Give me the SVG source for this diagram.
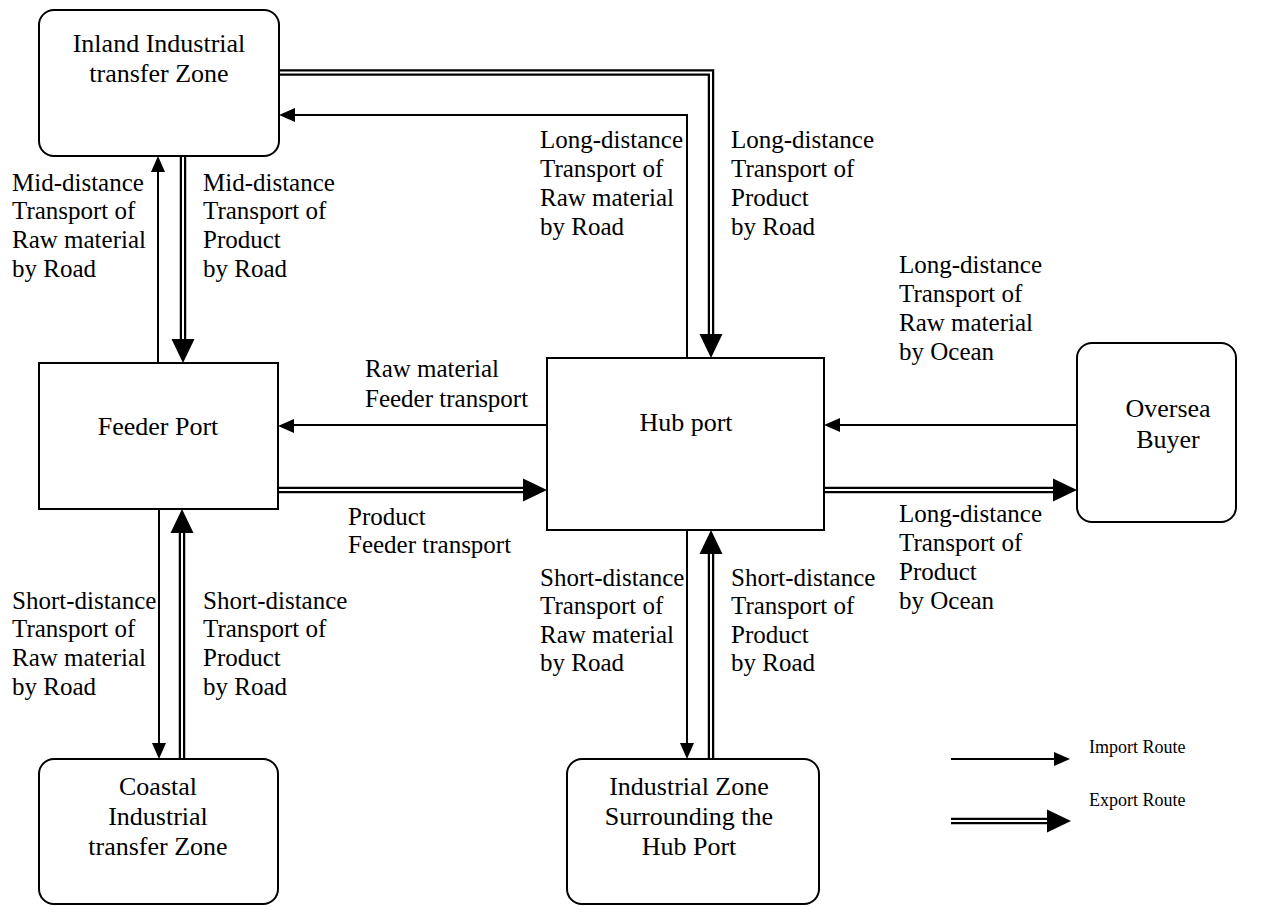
<svg xmlns="http://www.w3.org/2000/svg" width="1264" height="906" viewBox="0 0 1264 906">
<style>
.box{fill:#fff;stroke:#000;stroke-width:2}
text{font-family:'Liberation Serif','DejaVu Serif',serif;fill:#000}
.nt{font-size:26px;text-anchor:middle}
.lb{font-size:25px}
.lg{font-size:18px}
.s{fill:none;stroke:#000;stroke-width:2}
.dO{fill:none;stroke:#000;stroke-width:6.5;stroke-linejoin:miter}
.dI{fill:none;stroke:#fff;stroke-width:2}
.h{fill:#000}
</style>
<rect width="1264" height="906" fill="#fff"/>
<g id="connectors">
<path class="s" d="M158,363 V170"/><polygon class="h" points="158,156 151,172 165,172"/>
<path class="dO" d="M183,156 V340"/><path class="dI" d="M183,156 V342"/><polygon class="h" points="183,363 171.5,339 194.5,339"/>
<path class="s" d="M687,358 V115 H293"/><polygon class="h" points="279,115 295,108 295,122"/>
<path class="dO" d="M279,72.5 H711 V336"/><path class="dI" d="M279,72.5 H711 V338"/><polygon class="h" points="711,358 699.5,334 722.5,334"/>
<path class="s" d="M547,425 H292"/><polygon class="h" points="278,426 294,419 294,433"/>
<path class="dO" d="M278,490 H525"/><path class="dI" d="M278,490 H527"/><polygon class="h" points="547,490 523,478.5 523,501.5"/>
<path class="s" d="M1077,425 H838"/><polygon class="h" points="824,425 840,418 840,432"/>
<path class="dO" d="M824,490 H1055"/><path class="dI" d="M824,490 H1057"/><polygon class="h" points="1077,490 1053,478.5 1053,501.5"/>
<path class="s" d="M159,509 V745"/><polygon class="h" points="159,759 152,743 166,743"/>
<path class="dO" d="M182,759 V531"/><path class="dI" d="M182,759 V529"/><polygon class="h" points="182,509 170.5,533 193.5,533"/>
<path class="s" d="M687,530 V745"/><polygon class="h" points="687,759 680,743 694,743"/>
<path class="dO" d="M711,759 V552"/><path class="dI" d="M711,759 V550"/><polygon class="h" points="711,530 699.5,554 722.5,554"/>
<path class="s" d="M951,759 H1056"/><polygon class="h" points="1070,759 1054,752 1054,766"/>
<path class="dO" d="M951,821 H1048"/><path class="dI" d="M951,821 H1050"/><polygon class="h" points="1071,821 1047,809.5 1047,832.5"/>
</g>
<g id="inland">
<rect class="box" x="39" y="10" width="240" height="146" rx="15"/>
<text class="nt"><tspan x="159" y="52">Inland Industrial</tspan><tspan x="159" y="82">transfer Zone</tspan></text>
</g>
<g id="feeder">
<rect class="box" x="39" y="363" width="239" height="146"/>
<text class="nt"><tspan x="158" y="435">Feeder Port</tspan></text>
</g>
<g id="coastal">
<rect class="box" x="39" y="759" width="239" height="145" rx="15"/>
<text class="nt"><tspan x="158" y="795">Coastal</tspan><tspan x="158" y="825">Industrial</tspan><tspan x="158" y="855">transfer Zone</tspan></text>
</g>
<g id="hub">
<rect class="box" x="547" y="358" width="277" height="172"/>
<text class="nt"><tspan x="686" y="431">Hub port</tspan></text>
</g>
<g id="oversea">
<rect class="box" x="1077" y="343" width="159" height="179" rx="15"/>
<text class="nt"><tspan x="1168" y="417">Oversea</tspan><tspan x="1168" y="448">Buyer</tspan></text>
</g>
<g id="industrial">
<rect class="box" x="567" y="759" width="252" height="145" rx="15"/>
<text class="nt"><tspan x="689" y="795">Industrial Zone</tspan><tspan x="689" y="825">Surrounding the</tspan><tspan x="689" y="855">Hub Port</tspan></text>
</g>
<g id="labels">
<text class="lb"><tspan x="12" y="191">Mid-distance</tspan><tspan x="12" y="219">Transport of</tspan><tspan x="12" y="248">Raw material</tspan><tspan x="12" y="277">by Road</tspan></text>
<text class="lb"><tspan x="203" y="191">Mid-distance</tspan><tspan x="203" y="219">Transport of</tspan><tspan x="203" y="248">Product</tspan><tspan x="203" y="277">by Road</tspan></text>
<text class="lb"><tspan x="540" y="148">Long-distance</tspan><tspan x="540" y="177">Transport of</tspan><tspan x="540" y="206">Raw material</tspan><tspan x="540" y="235">by Road</tspan></text>
<text class="lb"><tspan x="731" y="148">Long-distance</tspan><tspan x="731" y="177">Transport of</tspan><tspan x="731" y="206">Product</tspan><tspan x="731" y="235">by Road</tspan></text>
<text class="lb"><tspan x="899" y="273">Long-distance</tspan><tspan x="899" y="302">Transport of</tspan><tspan x="899" y="331">Raw material</tspan><tspan x="899" y="360">by Ocean</tspan></text>
<text class="lb"><tspan x="365" y="377">Raw material</tspan><tspan x="365" y="407">Feeder transport</tspan></text>
<text class="lb"><tspan x="348" y="525">Product</tspan><tspan x="348" y="553">Feeder transport</tspan></text>
<text class="lb"><tspan x="899" y="522">Long-distance</tspan><tspan x="899" y="551">Transport of</tspan><tspan x="899" y="580">Product</tspan><tspan x="899" y="609">by Ocean</tspan></text>
<text class="lb"><tspan x="12" y="609">Short-distance</tspan><tspan x="12" y="637">Transport of</tspan><tspan x="12" y="666">Raw material</tspan><tspan x="12" y="695">by Road</tspan></text>
<text class="lb"><tspan x="203" y="609">Short-distance</tspan><tspan x="203" y="637">Transport of</tspan><tspan x="203" y="666">Product</tspan><tspan x="203" y="695">by Road</tspan></text>
<text class="lb"><tspan x="540" y="586">Short-distance</tspan><tspan x="540" y="614">Transport of</tspan><tspan x="540" y="643">Raw material</tspan><tspan x="540" y="671">by Road</tspan></text>
<text class="lb"><tspan x="731" y="586">Short-distance</tspan><tspan x="731" y="614">Transport of</tspan><tspan x="731" y="643">Product</tspan><tspan x="731" y="671">by Road</tspan></text>
<text class="lg" x="1089" y="753">Import Route</text>
<text class="lg" x="1089" y="806">Export Route</text>
</g>
</svg>
